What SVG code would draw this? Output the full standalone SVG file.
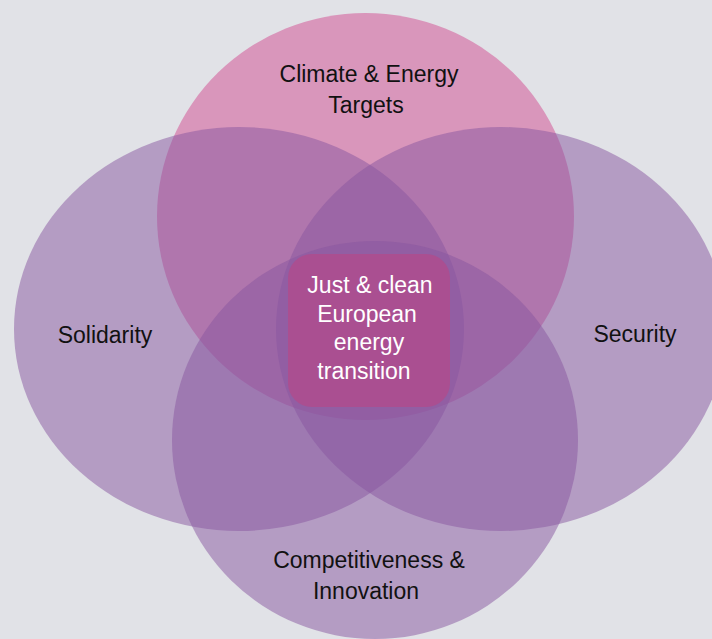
<svg xmlns="http://www.w3.org/2000/svg" width="712" height="639" viewBox="0 0 712 639">
<style>
.bg{fill:#e1e2e7}
.top{fill:#d996bb}
.pur{fill:#87559f;fill-opacity:0.5}
.core{fill:#aa4f91}
.lbl{font-family:"Liberation Sans",Arial,sans-serif;font-size:23px;fill:#111;text-anchor:middle}
.ctr{font-family:"Liberation Sans",Arial,sans-serif;font-size:23px;fill:#fff;text-anchor:middle}
</style>
<rect class="bg" x="0" y="0" width="712" height="639"/>
<g id="climate">
<ellipse class="top" cx="365.5" cy="216.5" rx="208.5" ry="203.5"/>
</g>
<g id="solidarity">
<ellipse class="pur" cx="239" cy="329" rx="225" ry="202"/>
</g>
<g id="security">
<ellipse class="pur" cx="501" cy="329" rx="225" ry="202"/>
</g>
<g id="competitiveness">
<ellipse class="pur" cx="375" cy="440" rx="203" ry="199"/>
</g>
<g id="core">
<rect class="core" x="288" y="254" width="162" height="153" rx="24"/>
<text class="ctr" x="370" y="293">Just &amp; clean</text>
<text class="ctr" x="367" y="322">European</text>
<text class="ctr" x="369" y="350">energy</text>
<text class="ctr" x="364" y="379">transition</text>
</g>
<g id="labels">
<text class="lbl" x="369" y="82">Climate &amp; Energy</text>
<text class="lbl" x="366" y="113">Targets</text>
<text class="lbl" x="105" y="343">Solidarity</text>
<text class="lbl" x="635" y="342">Security</text>
<text class="lbl" x="369" y="568">Competitiveness &amp;</text>
<text class="lbl" x="366" y="599">Innovation</text>
</g>
<g id="connectors"/>
</svg>
